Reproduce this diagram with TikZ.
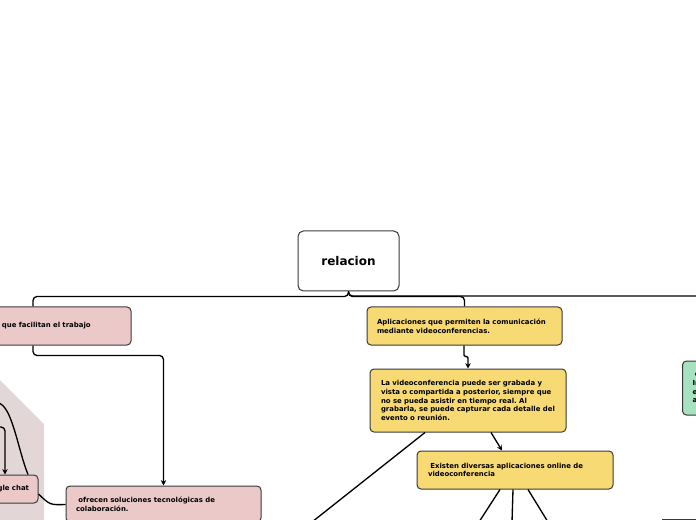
\documentclass[tikz,border=0pt]{standalone}
\usepackage{fontspec}
\setmainfont{DejaVu Sans}
\frenchspacing
\usetikzlibrary{arrows.meta}
\definecolor{relpink}{HTML}{EBC9C9}
\definecolor{relyellow}{HTML}{F7DA74}
\definecolor{relgreen}{HTML}{A6E2BF}
\definecolor{relshade}{HTML}{E3D6D6}
\definecolor{relline}{HTML}{3A3A3A}

\begin{document}
\begin{tikzpicture}[x=0.75pt, y=-0.75pt,
    mcard/.style={rounded corners=3pt, draw=relline, line width=0.75pt, align=left, inner xsep=7.5pt, inner ysep=0pt, font=\bfseries\fontsize{5.2}{6.5}\selectfont},
    link/.style={line width=1pt, rounded corners=3pt},
    arr/.style={link, -{Stealth[length=4pt, width=4pt]}}
  ]
  \useasboundingbox (0,0) rectangle (696,520);
  \clip (0,0) rectangle (696,520);

  % shaded group on the left
  \fill[relshade] (-2,378) -- (44,424) -- (44,522) -- (-2,522) -- cycle;

  % Root
  \node[rounded corners=4pt, draw=relline, line width=0.75pt, fill=white, minimum width=75.75pt, minimum height=45pt, font=\bfseries\fontsize{9}{11}\selectfont] (rel) at (348.5,261) {relacion};

  % Left branch
  \node[mcard, fill=relpink, inner xsep=9pt, text width=87.75pt, minimum height=28.5pt] (faci) at (60.5,326) {que facilitan el trabajo};
  \node[mcard, fill=relpink, text width=131.25pt, minimum height=27pt] (ofre) at (163.5,504) {\ ofrecen soluciones tecnológicas de\\colaboración.};
  \node[mcard, fill=relpink, align=right, inner xsep=6.75pt, text width=40.5pt, minimum height=21pt] (chat) at (2,489) {gle chat};

  % Middle branch
  \node[mcard, fill=relyellow, text width=131.25pt, minimum height=28.5pt] (apli) at (464.5,326) {Aplicaciones que permiten la comunicación\\mediante videoconferencias.};
  \node[mcard, fill=relyellow, inner xsep=8.25pt, text width=130.5pt, minimum height=47.25pt] (vide) at (468,400.5) {La videoconferencia puede ser grabada y\\vista o compartida a posterior, siempre que\\no se pueda asistir en tiempo real. Al\\grabarla, se puede capturar cada detalle del\\evento o reunión.};
  \node[mcard, fill=relyellow, inner xsep=8.25pt, text width=130.5pt, minimum height=28.5pt] (exis) at (515,470) {\ Existen diversas aplicaciones online de\\videoconferencia};

  % Right branch
  \node[mcard, fill=relgreen, anchor=west, text width=60pt, minimum height=40.5pt] (verd) at (682,388) {\ c\\In\\e\\a};

  % free ends
  \coordinate (eastend) at (700,296);
  \coordinate (wa) at (-2,403);
  \coordinate (wb) at (-2,427);
  \coordinate (sw1) at (312,522);
  \coordinate (o1) at (479,522);
  \coordinate (o2) at (512,522);
  \coordinate (o3) at (548,522);

  % connectors
  \draw[link] (rel.south) -- ++(0,5) -| ([shift={(-27.5,0)}]faci.north);
  \draw[link] (rel.south) -- ++(0,5) -| (apli.north);
  \draw[link] (rel.south) |- (eastend);
  \draw[arr] ([shift={(-27.5,0)}]faci.south) -- ++(0,10) -| (ofre.north);
  \draw[arr, rounded corners=1pt] ([shift={(-0.5,0)}]apli.south) -- ++(0,11) -| (vide.north);
  \draw[arr] ([shift={(23,0)}]vide.south) -- ([shift={(-13,0)}]exis.north);
  \draw[link] ([shift={(-43,0)}]vide.south) -- (sw1);
  \draw[link] ([shift={(-15,0)}]exis.south) -- (o1);
  \draw[link] ([shift={(-2,0)}]exis.south) -- (o2);
  \draw[link] ([shift={(13,0)}]exis.south) -- (o3);
  \draw[link] (wa) .. controls (12,405) and (18,450) .. ([shift={(26,0)}]chat.north);
  \draw[arr] (wb) -| ([shift={(3,0)}]chat.north);
  \draw[link] ([shift={(0,5)}]chat.east) .. controls (50,505) .. ([shift={(0,19)}]ofre.north west);

  % edge of a box below, cut off
  \draw[line width=0.75pt, relline] (662,519) -- (700,519);
\end{tikzpicture}
\end{document}
